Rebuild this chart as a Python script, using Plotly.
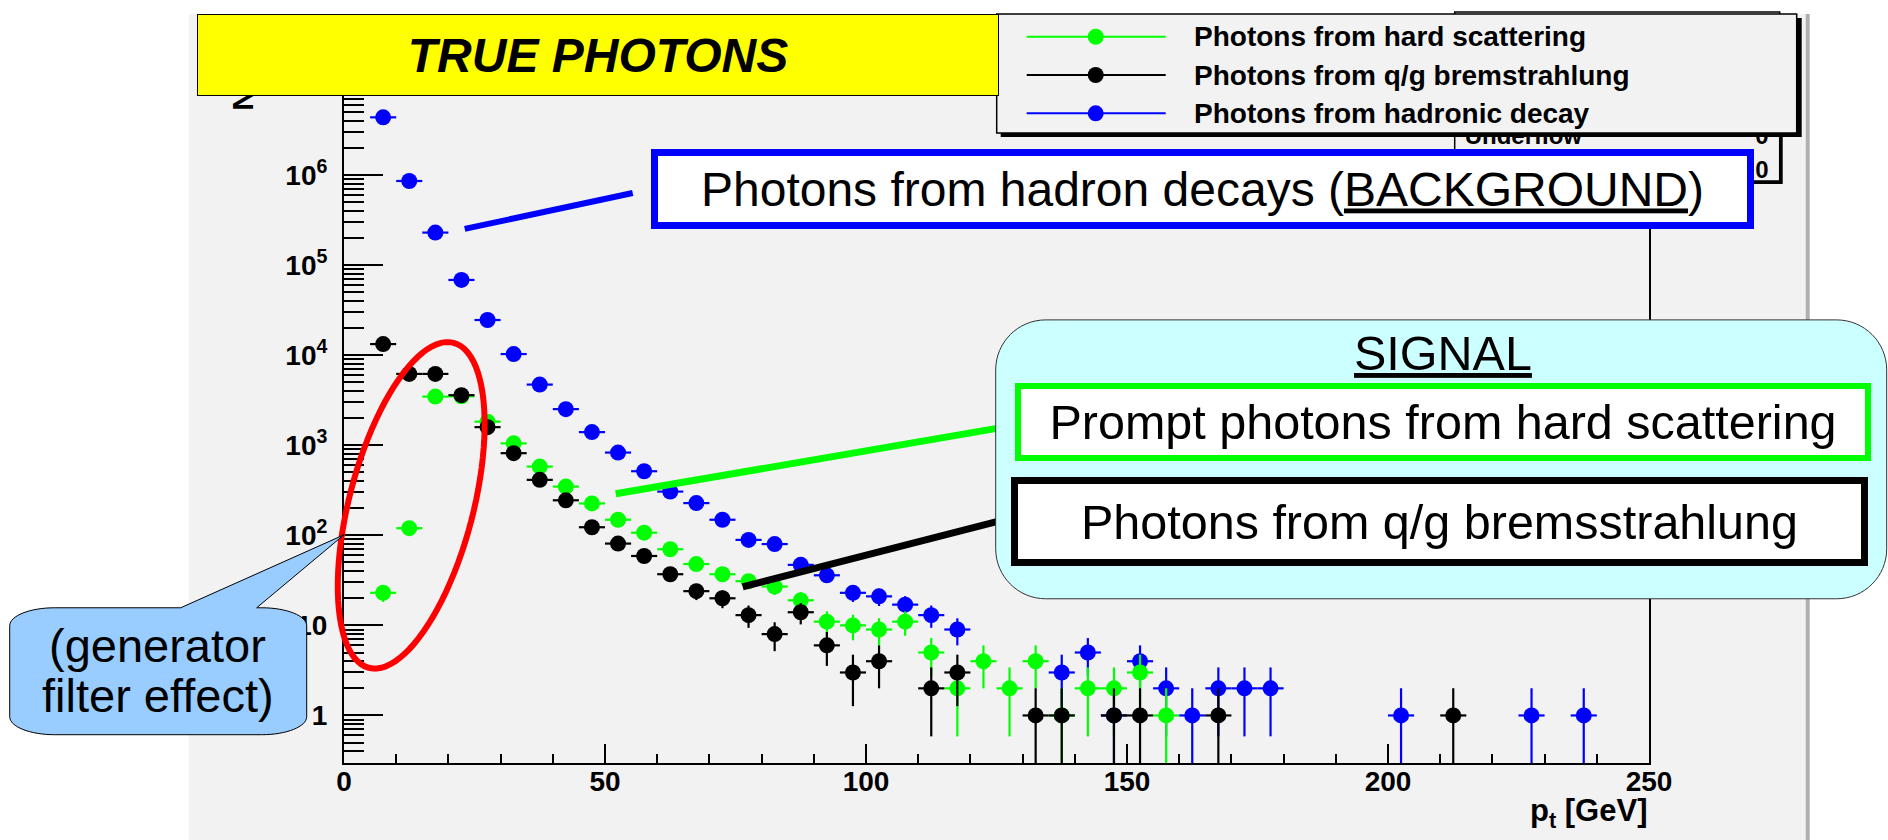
import math
import plotly.graph_objects as go

# ---------------------------------------------------------------------------
# Photon transverse-momentum spectra, 5 GeV bins (bin centre [GeV], entries)
# ---------------------------------------------------------------------------
BIN_HALF_WIDTH = 2.5

hard_pt = [7.5, 12.5, 17.5, 22.5, 27.5, 32.5, 37.5, 42.5, 47.5, 52.5, 57.5, 62.5,
           67.5, 72.5, 77.5, 82.5, 87.5, 92.5, 97.5, 102.5, 107.5, 112.5, 117.5,
           122.5, 127.5, 132.5, 137.5, 142.5, 147.5, 152.5, 157.5]
hard_n = [23, 120, 3470, 3500, 1830, 1050, 580, 348, 226, 149, 107, 70,
          48, 37, 31, 27, 19, 11, 10, 9, 11, 5, 2,
          4, 2, 4, 1, 2, 2, 3, 1]

brem_pt = [7.5, 12.5, 17.5, 22.5, 27.5, 32.5, 37.5, 42.5, 47.5, 52.5, 57.5, 62.5,
           67.5, 72.5, 77.5, 82.5, 87.5, 92.5, 97.5, 102.5, 112.5, 117.5,
           132.5, 137.5, 147.5, 152.5, 167.5, 212.5]
brem_n = [13300, 6200, 6200, 3600, 1590, 817, 413, 245, 123, 81, 59, 37,
          24, 20, 13, 8, 14, 6, 3, 4, 2, 3,
          1, 1, 1, 1, 1, 1]

had_pt = [7.5, 12.5, 17.5, 22.5, 27.5, 32.5, 37.5, 42.5, 47.5, 52.5, 57.5, 62.5,
          67.5, 72.5, 77.5, 82.5, 87.5, 92.5, 97.5, 102.5, 107.5, 112.5, 117.5,
          137.5, 142.5, 147.5, 152.5, 157.5, 162.5, 167.5, 172.5, 177.5,
          202.5, 227.5, 237.5]
had_n = [4380000, 860000, 230000, 68500, 24600, 10300, 4720, 2520, 1400, 830, 515, 306,
         228, 149, 89, 80, 47, 36, 23, 21, 17, 13, 9,
         3, 5, 1, 4, 2, 1, 2, 2, 2,
         1, 1, 1]

series_names = ["Photons from hard scattering",
                "Photons from q/g bremstrahlung",
                "Photons from hadronic decay"]
series_colors = ["#00ff00", "#000000", "#0000ff"]

x_tick_vals = [0, 50, 100, 150, 200, 250]
x_tick_text = ["0", "50", "100", "150", "200", "250"]
y_tick_vals = [1, 10, 100, 1e3, 1e4, 1e5, 1e6]
y_tick_text = ["1", "10", "10<sup>2</sup>", "10<sup>3</sup>", "10<sup>4</sup>",
               "10<sup>5</sup>", "10<sup>6</sup>"]
y_minor_vals = [k * 10.0 ** d for d in range(-1, 8) for k in range(2, 10)]

X_RANGE = [0, 250]
Y_RANGE_LOG = [-0.528, 6.945]

# ---------------------------------------------------------------------------
# Page geometry (pixels) and helpers mapping pixels to paper coordinates
# ---------------------------------------------------------------------------
W, H = 1888, 840
L, R, T, B = 344.3, 1649.3, 90.0, 763.3      # frame edges

FONT = "Liberation Sans"
CANVAS = "#f2f2f2"
SLIDE_SIZE = 48.5


def fx(px):
    return (px - L) / (R - L)


def fy(py):
    return (B - py) / (B - T)


def pt(px, py):
    return f"{fx(px):.6f},{fy(py):.6f}"


def rect(x0, y0, x1, y1, fill="rgba(0,0,0,0)", line_color="black", lw=0,
         layer="above", label=None):
    shp = dict(type="rect", xref="paper", yref="paper",
               x0=fx(x0), x1=fx(x1), y0=fy(y1), y1=fy(y0),
               fillcolor=fill, line=dict(color=line_color, width=lw), layer=layer)
    if label:
        shp["label"] = label
    return shp


def seg(x0, y0, x1, y1, color, width):
    return dict(type="line", xref="paper", yref="paper",
                x0=fx(x0), y0=fy(y0), x1=fx(x1), y1=fy(y1),
                line=dict(color=color, width=width), layer="above")


def dot(cx, cy, d, color):
    return dict(type="circle", xref="paper", yref="paper",
                x0=fx(cx - d / 2), x1=fx(cx + d / 2), y0=fy(cy + d / 2), y1=fy(cy - d / 2),
                fillcolor=color, line=dict(width=0), layer="above")


def rounded_path(x0, y0, x1, y1, rx, ry, wedge=None):
    k = 0.5523
    p = [f"M{pt(x0 + rx, y0)}"]
    if wedge:
        for wx, wy in wedge:
            p.append(f"L{pt(wx, wy)}")
    p += [f"L{pt(x1 - rx, y0)}",
          f"C{pt(x1 - rx + k * rx, y0)} {pt(x1, y0 + ry - k * ry)} {pt(x1, y0 + ry)}",
          f"L{pt(x1, y1 - ry)}",
          f"C{pt(x1, y1 - ry + k * ry)} {pt(x1 - rx + k * rx, y1)} {pt(x1 - rx, y1)}",
          f"L{pt(x0 + rx, y1)}",
          f"C{pt(x0 + rx - k * rx, y1)} {pt(x0, y1 - ry + k * ry)} {pt(x0, y1 - ry)}",
          f"L{pt(x0, y0 + ry)}",
          f"C{pt(x0, y0 + ry - k * ry)} {pt(x0 + rx - k * rx, y0)} {pt(x0 + rx, y0)}",
          "Z"]
    return " ".join(p)


def ellipse_path(cx, cy, a, b, tilt_deg, n=96):
    phi = math.radians(tilt_deg)
    ux, uy = math.sin(phi), -math.cos(phi)      # major axis direction
    vx, vy = math.cos(phi), math.sin(phi)       # minor axis direction
    pts = []
    for i in range(n):
        t = 2 * math.pi * i / n
        px = cx + a * math.cos(t) * ux + b * math.sin(t) * vx
        py = cy + a * math.cos(t) * uy + b * math.sin(t) * vy
        pts.append(pt(px, py))
    return "M" + " L".join(pts) + " Z"


def text_box(x0, y0, x1, y1, text, size, bg=None, border=None, bw=0,
             weight="normal", style="normal"):
    ann = dict(xref="paper", yref="paper", x=fx(x0), y=fy(y0),
               xanchor="left", yanchor="top", showarrow=False,
               width=x1 - x0 - 2 * bw, height=y1 - y0 - 2 * bw,
               text=text, align="center", valign="middle", borderpad=0,
               font=dict(family=FONT, size=size, color="black",
                         weight=weight, style=style))
    if bg:
        ann["bgcolor"] = bg
    if border:
        ann["bordercolor"] = border
        ann["borderwidth"] = bw
    return ann


def label(x, y, text, size, xanchor="center", weight="normal", angle=0):
    return dict(xref="paper", yref="paper", x=fx(x), y=fy(y), xanchor=xanchor,
                yanchor="middle", showarrow=False, text=text, textangle=angle,
                font=dict(family=FONT, size=size, color="black", weight=weight))


# ---------------------------------------------------------------------------
# Histograms drawn as points with Poisson and bin-width error bars
# ---------------------------------------------------------------------------
def spectrum(xs, ns, color, name):
    return go.Scatter(
        x=xs, y=ns, mode="markers", name=name, showlegend=False,
        marker=dict(symbol="circle", size=16, color=color, line=dict(width=0)),
        error_x=dict(type="constant", value=BIN_HALF_WIDTH, width=0,
                     thickness=2.2, color=color),
        error_y=dict(type="data", array=[math.sqrt(v) for v in ns], width=0,
                     thickness=2.2, color=color),
    )


fig = go.Figure()
# hadronic decays first, then hard scattering, bremsstrahlung on top
fig.add_trace(spectrum(had_pt, had_n, series_colors[2], series_names[2]))
fig.add_trace(spectrum(hard_pt, hard_n, series_colors[0], series_names[0]))
fig.add_trace(spectrum(brem_pt, brem_n, series_colors[1], series_names[1]))

tick_font = dict(family=FONT, size=28, color="black", weight="bold")

fig.update_layout(
    width=W, height=H, showlegend=False,
    margin=dict(l=L, r=W - R, t=T, b=H - B, pad=0, autoexpand=False),
    paper_bgcolor="white", plot_bgcolor=CANVAS,
    xaxis=dict(range=X_RANGE, showgrid=False, zeroline=False,
               showline=True, linecolor="black", linewidth=2, mirror=True,
               ticks="inside", ticklen=19, tickwidth=2, tickcolor="black",
               tickmode="array", tickvals=x_tick_vals, ticktext=x_tick_text,
               tickfont=tick_font, ticklabelstandoff=-8,
               minor=dict(ticks="inside", ticklen=9, tickwidth=2,
                          tickcolor="black", dtick=10, showgrid=False)),
    yaxis=dict(type="log", range=Y_RANGE_LOG, showgrid=False, zeroline=False,
               showline=True, linecolor="black", linewidth=2, mirror=True,
               ticks="inside", ticklen=39, tickwidth=2, tickcolor="black",
               tickmode="array", tickvals=y_tick_vals, ticktext=y_tick_text,
               tickfont=tick_font, ticklabelstandoff=9,
               minor=dict(ticks="inside", ticklen=20, tickwidth=2,
                          tickcolor="black", tickmode="array",
                          tickvals=y_minor_vals, showgrid=False)),
)

# ---------------------------------------------------------------------------
# Shapes: canvas, statistics box, legend, pointers and highlight marks
# ---------------------------------------------------------------------------
shapes = []
shapes.append(rect(189, 14, 1806, 845, fill=CANVAS, layer="below"))
shapes.append(seg(1808, 14, 1808, 845, "#b0b0b0", 4))

# statistics box (mostly hidden behind the legend)
stat_font = dict(family=FONT, size=24, color="black")
shapes.append(rect(1458, 15, 1783, 184, fill="black"))
shapes.append(rect(1455, 12, 1780, 181, fill=CANVAS, line_color="black", lw=1.5))
shapes.append(rect(1462, 122, 1772, 146, label=dict(
    text="<b>Underflow</b>", font=stat_font, textposition="middle left", padding=0)))
shapes.append(rect(1462, 122, 1772, 146, label=dict(
    text="<b>0</b>", font=stat_font, textposition="middle right", padding=0)))
shapes.append(rect(1462, 156, 1772, 180, label=dict(
    text="<b>0</b>", font=stat_font, textposition="middle right", padding=0)))

# legend box with drop shadow
shapes.append(rect(1001, 18, 1802, 137, fill="black"))
shapes.append(rect(997, 14, 1797, 133, fill=CANVAS, line_color="black", lw=1.5))
legend_rows = [36.7, 75.0, 113.3]
for row_y, color in zip(legend_rows, series_colors):
    shapes.append(seg(1027, row_y, 1166, row_y, color, 2))
    shapes.append(dot(1096, row_y, 16, color))

# pointer lines from the curves to the captions
shapes.append(seg(465, 229, 633, 193, "#0000ff", 6))
shapes.append(seg(616, 494, 1000, 428, "#00ff00", 7))
shapes.append(seg(743, 587, 1000, 521, "#000000", 7))

# SIGNAL panel
shapes.append(dict(type="path", xref="paper", yref="paper", layer="above",
                   path=rounded_path(996, 320, 1887, 599, 50, 50),
                   fillcolor="#ccffff", line=dict(color="#333333", width=1)))

# red ellipse around the low-pT region
shapes.append(dict(type="path", xref="paper", yref="paper", layer="above",
                   path=ellipse_path(411.5, 505.5, 168, 62, 14.6),
                   fillcolor="rgba(0,0,0,0)", line=dict(color="#ff0000", width=6)))

# callout bubble
shapes.append(dict(type="path", xref="paper", yref="paper", layer="above",
                   path=rounded_path(10, 608, 307, 735, 45, 18,
                                     wedge=[(181, 608), (344.3, 535), (257, 608)]),
                   fillcolor="#99ccff", line=dict(color="black", width=1)))

fig.update_layout(shapes=shapes)

# ---------------------------------------------------------------------------
# Text
# ---------------------------------------------------------------------------
ann = []
ann.append(label(243, 100, "N", 30, weight="bold", angle=-90))
ann.append(text_box(197, 14, 999, 96, "TRUE PHOTONS", 48, bg="#ffff00",
                    border="black", bw=1, weight="bold", style="italic"))
for row_y, name in zip(legend_rows, series_names):
    ann.append(label(1192, row_y, name, 28, xanchor="left", weight="bold"))

ann.append(label(1649, 813, "p<sub>t</sub> [GeV]", 31, xanchor="right", weight="bold"))

ann.append(text_box(651, 149, 1754, 229,
                    "Photons from hadron decays (<u>BACKGROUND</u>)", 48,
                    bg="white", border="#0000ff", bw=7))
ann.append(label(1443, 353, "<u>SIGNAL</u>", SLIDE_SIZE))
ann.append(text_box(1015, 383, 1871, 461, "Prompt photons from hard scattering",
                    SLIDE_SIZE, bg="white", border="#00ff00", bw=6))
ann.append(text_box(1011, 477, 1868, 566, "Photons from q/g bremsstrahlung",
                    SLIDE_SIZE, bg="white", border="#000000", bw=7))
ann.append(label(158, 646, "(generator", 47))
ann.append(label(158, 696, "filter effect)", 47))

fig.update_layout(annotations=ann)

fig.write_html("out.html")
